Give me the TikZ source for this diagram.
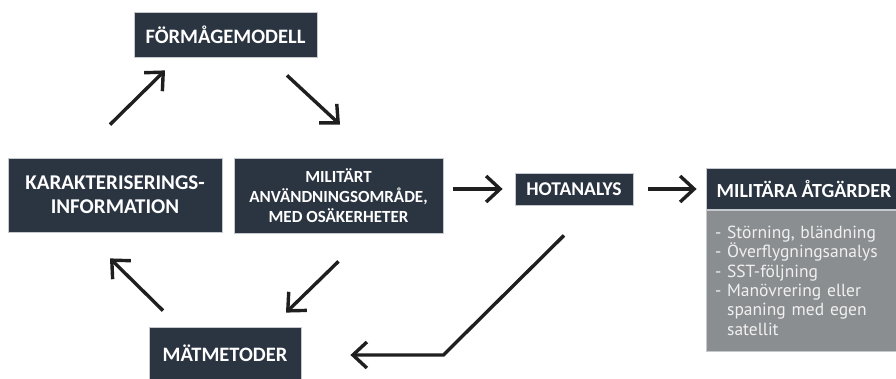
\documentclass[tikz,border=0pt]{standalone}
\usepackage{fontspec}
\setmainfont{Carlito}
\newfontfamily\listfont{PT Sans}
\usetikzlibrary{arrows.meta, positioning}
\definecolor{boxnavy}{HTML}{2B3441}
\definecolor{boxgray}{HTML}{8B8E91}
\definecolor{boxline}{HTML}{C5C9CE}

\begin{document}
\begin{tikzpicture}[x=1pt, y=-1pt,
  darkbox/.style={draw=boxline, line width=0.8pt, fill=boxnavy, text=white, align=center, inner sep=0pt},
  arr/.style={-{Straight Barb[length=14pt,width=26pt]}, line width=3.4pt, black!88}]
\useasboundingbox (0,0) rectangle (896,379);
% Boxes
\node[darkbox, minimum width=183, minimum height=45, font=\fontsize{20.5}{22}\selectfont\bfseries] (form) at (225.5,34.5) {FÖRMÅGEMODELL};
\node[darkbox, minimum width=214, minimum height=74, font=\fontsize{21}{24}\selectfont\bfseries] (kar) at (115,195) {KARAKTERISERINGS-\\INFORMATION};
\node[darkbox, minimum width=209, minimum height=75, font=\fontsize{17}{20}\selectfont\bfseries] (mil) at (338.5,195.5) {MILITÄRT\\ANVÄNDNINGSOMRÅDE,\\MED OSÄKERHETER};
\node[darkbox, minimum width=118, minimum height=32, font=\fontsize{19.5}{21}\selectfont\bfseries] (hot) at (574,189) {HOTANALYS};
\node[darkbox, minimum width=196, minimum height=41, font=\fontsize{20}{22}\selectfont\bfseries] (atg) at (804,189) {MILITÄRA ÅTGÄRDER};
\node[draw=boxline, line width=0.8pt, fill=boxgray, text=white!94!black, minimum width=196, minimum height=141, text width=178pt, inner xsep=9pt, inner ysep=0pt, align=left, below=0pt of atg, font=\listfont\fontsize{17.5}{19.3}\selectfont] (atglist) {-~Störning,~bländning\\-~Överflygningsanalys\\-~SST-följning\\-~Manövrering~eller\\\phantom{-~}spaning~med~egen\\\phantom{-~}satellit};
\node[darkbox, minimum width=152, minimum height=52, font=\fontsize{20.5}{22}\selectfont\bfseries] (mat) at (225,353) {MÄTMETODER};
% Arrows
\draw[arr] ([shift={(-5,-33)}]kar.north) -- ([shift={(-60.5,13)}]form.south);
\draw[arr] ([shift={(61.5,18)}]form.south) -- ([shift={(1.5,-33)}]mil.north);
\draw[arr] ([shift={(10,-6.5)}]mil.east) -- ([xshift=-12]hot.west);
\draw[arr] ([xshift=15]hot.east) -- ([xshift=-9]atg.west);
\draw[arr] ([shift={(0,28)}]mil.south) -- ([shift={(61,-14)}]mat.north);
\draw[arr] ([shift={(-62,-16)}]mat.north) -- ([shift={(-5,26)}]kar.south);
\draw[arr] ([shift={(-10,30)}]hot.south) -- ([shift={(142,2)}]mat.east) -- ([shift={(49,2)}]mat.east);
\end{tikzpicture}
\end{document}
